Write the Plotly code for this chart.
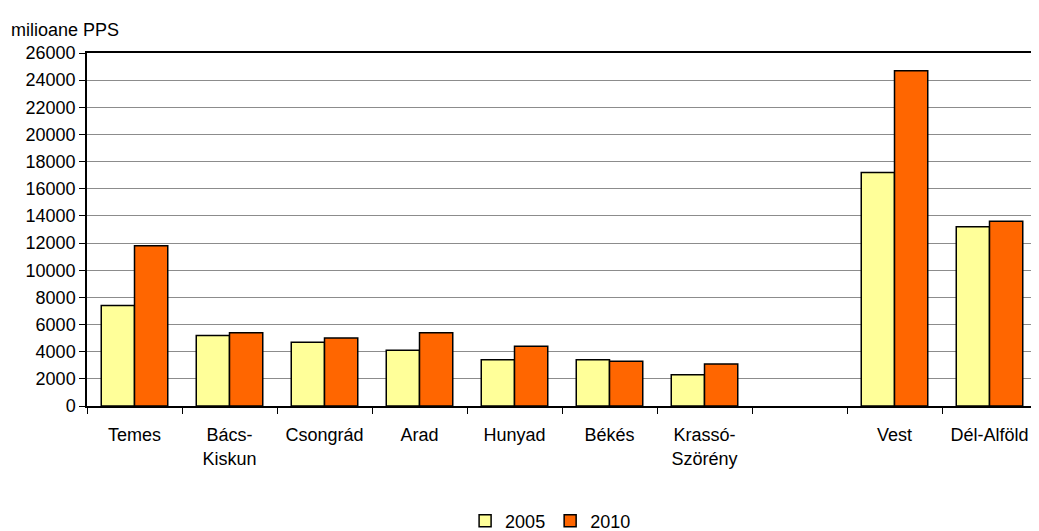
import plotly.graph_objects as go

categories = ["Temes", "Bács-<br>Kiskun", "Csongrád", "Arad", "Hunyad", "Békés",
              "Krassó-<br>Szörény", " ", "Vest", "Dél-Alföld"]
values_2005 = [7400, 5200, 4700, 4100, 3400, 3400, 2300, None, 17200, 13200]
values_2010 = [11800, 5400, 5000, 5400, 4400, 3300, 3100, None, 24700, 13600]
y_ticks = list(range(0, 26001, 2000))

fig = go.Figure()
fig.add_trace(go.Bar(x=categories, y=values_2005, name="2005",
                     marker=dict(color="#FFFF99", line=dict(color="black", width=1.5))))
fig.add_trace(go.Bar(x=categories, y=values_2010, name="2010",
                     marker=dict(color="#FF6600", line=dict(color="black", width=1.5))))

# page has an 8px body margin, so the figure is 8px smaller than the window
fig.update_layout(
    width=1031, height=523,
    margin=dict(l=79, r=2, t=45, b=125, autoexpand=False),
    plot_bgcolor="white", paper_bgcolor="white",
    font=dict(family="Liberation Sans, Arial, sans-serif", size=18, color="black"),
    barmode="group", bargap=0.3, bargroupgap=0,
    legend=dict(orientation="h", x=0.488, xanchor="center", y=-0.326, yanchor="middle",
                font=dict(size=18), itemwidth=30, traceorder="normal"),
)
fig.add_annotation(text="milioane PPS", xref="paper", yref="paper",
                   x=(1 - 79) / 950, y=(398 - 22) / 353, showarrow=False,
                   xanchor="left", yanchor="middle", font=dict(size=18))
# grey right border of the plot area
fig.add_shape(type="line", xref="paper", yref="paper", x0=1, x1=1, y0=0, y1=1,
              line=dict(color="#8c8c8c", width=1.5))

fig.update_xaxes(type="category", tickson="boundaries", ticks="outside", ticklen=6,
                 tickcolor="black", showline=True, linecolor="black", linewidth=1.5,
                 mirror=True, showgrid=False, ticklabelstandoff=12)
fig.update_yaxes(range=[0, 26000], tickvals=y_ticks, tickformat="d", ticks="outside",
                 ticklen=6, tickcolor="black", showline=True, linecolor="black",
                 linewidth=1.5, gridcolor="#8c8c8c", gridwidth=1, zeroline=False)

fig.write_html("out.html")
